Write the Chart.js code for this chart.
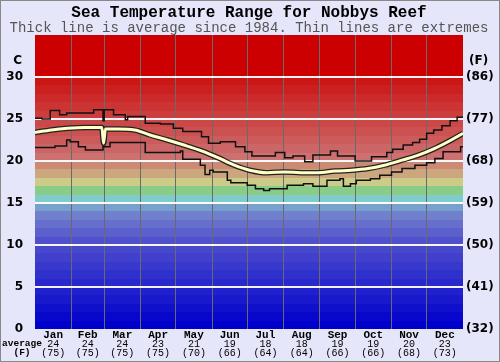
<!DOCTYPE html>
<html>
<head>
<meta charset="utf-8">
<script src="https://cdn.jsdelivr.net/npm/chart.js@4.4.1/dist/chart.umd.min.js"></script>
<style>
  html, body { margin: 0; padding: 0; background: #e6e6fa; }
  canvas { display: block; }
</style>
</head>
<body>
<canvas id="chart" width="500" height="362"></canvas>
<script>
// month labels and the day each month starts on
const months = ['Jan', 'Feb', 'Mar', 'Apr', 'May', 'Jun', 'Jul', 'Aug', 'Sep', 'Oct', 'Nov', 'Dec'];
const monthStarts = [0, 31, 59, 90, 120, 151, 181, 212, 243, 273, 304, 334, 365];
const monthAvgC = [24, 24, 24, 23, 21, 19, 18, 18, 19, 19, 20, 23];
const monthAvgF = [75, 75, 75, 75, 70, 66, 64, 64, 66, 66, 68, 73];

// axis ticks
const ticksC = [0, 5, 10, 15, 20, 25, 30];
const ticksF = [32, 41, 50, 59, 68, 77, 86];

// highest recorded (thin upper line), day of year -> deg C
const maxDays = [0, 6, 13, 21, 27, 50, 58, 59, 67, 77, 79, 94, 107, 118, 126, 142, 148, 158, 171, 179,
    185, 205, 213, 220, 230, 237, 252, 258, 273, 287, 300, 305, 314, 322, 328, 334, 340, 347, 354, 360, 365];
const maxTemps = [25.1, 25.0, 26.0, 25.5, 25.7, 26.1, 24.8, 26.1, 25.5, 24.9, 25.3, 24.5, 24.4, 23.9, 23.5, 22.9, 22.1, 22.3, 21.7, 21.1,
    20.6, 21.0, 20.4, 20.6, 19.9, 20.7, 21.2, 20.6, 20.0, 20.5, 21.0, 21.4, 21.9, 22.2, 22.6, 23.3, 23.7, 24.2, 24.8, 25.2, 25.2];

// lowest recorded (thin lower line)
const minDays = [0, 17, 27, 30, 37, 43, 58, 64, 94, 124, 126, 141, 145, 149, 152, 164, 167, 181, 188, 195,
    200, 215, 229, 237, 249, 260, 263, 269, 274, 286, 294, 304, 313, 324, 334, 341, 348, 363, 365];
const minTemps = [21.6, 21.8, 22.5, 22.3, 21.7, 21.3, 21.7, 22.2, 21.0, 21.2, 20.2, 19.5, 18.4, 18.9, 18.7, 17.7, 17.4, 17.1, 16.7, 16.5,
    16.7, 17.1, 17.3, 17.0, 17.7, 17.9, 17.0, 17.3, 17.7, 17.9, 18.3, 18.7, 19.1, 19.5, 19.8, 20.3, 21.1, 21.7, 21.7];

// average since 1984 (thick line)
const avgDays = [0, 14, 28, 42, 57, 58.5, 60, 70, 85, 98, 113, 127, 142, 156, 170, 183, 198, 213, 227, 241,
    256, 270, 284, 298, 313, 327, 341, 355, 365];
const avgTemps = [23.4, 23.7, 23.9, 24.0, 24.0, 22.1, 23.8, 23.8, 23.7, 23.1, 22.5, 21.9, 21.2, 20.4, 19.5, 18.9, 18.6, 18.7, 18.6, 18.6,
    18.8, 18.9, 19.1, 19.5, 20.1, 20.7, 21.5, 22.5, 23.3];

// one colour per degree band, 0-1 C up to 34-35 C
const bandColors = [
    '#0000cc', '#0808cc', '#1010cc', '#1818cc', '#2020cc', '#2828cc', '#3030cc', '#3838cc', '#4040cc', '#4848cc',
    '#5050cc', '#5c60cc', '#6670cc', '#7080cc', '#78a0cc', '#80cccc', '#88cc88', '#cccc88', '#cca67c', '#cc8a74',
    '#cc7070', '#cc6666', '#cc5c5c', '#cc5252', '#cc4848', '#cc3e3e', '#cc3434', '#cc2a2a', '#cc2020', '#cc1515',
    '#cc0000', '#cc0000', '#cc0000', '#cc0000', '#cc0000'
];

const toPoints = (xs, ys) => xs.map((x, i) => ({x: x, y: ys[i]}));

const backdrop = {
    id: 'backdrop',
    beforeDraw(chart) {
        const {ctx, chartArea: a, scales: {y}} = chart;
        ctx.save();
        ctx.fillStyle = '#e6e6fa';
        ctx.fillRect(0, 0, chart.width, chart.height);
        bandColors.forEach((c, n) => {
            const top = Math.round(y.getPixelForValue(n + 1));
            const bot = Math.round(y.getPixelForValue(n));
            ctx.fillStyle = c;
            ctx.fillRect(a.left, top, a.right - a.left, bot - top);
        });
        ctx.restore();
    }
};

const labels = {
    id: 'labels',
    afterDraw(chart) {
        const {ctx, chartArea: a, scales: {x, y}} = chart;
        ctx.save();
        ctx.fillStyle = '#000';
        ctx.textAlign = 'center';
        ctx.textBaseline = 'middle';
        ctx.font = 'bold 16px "Liberation Mono", monospace';
        ctx.fillText('Sea Temperature Range for Nobbys Reef', 249, 13);
        ctx.fillStyle = '#555';
        ctx.font = '14px "Liberation Mono", monospace';
        ctx.fillText('Thick line is average since 1984. Thin lines are extremes', 249, 28);

        // left / right axis labels
        ctx.fillStyle = '#000';
        ctx.font = 'bold 12px "DejaVu Sans", sans-serif';
        ctx.textAlign = 'right';
        ticksC.forEach(v => ctx.fillText(String(v), 23, y.getPixelForValue(v)));
        ctx.fillText('C', 22, 61);
        ctx.textAlign = 'left';
        ticksC.forEach((v, i) => ctx.fillText('(' + ticksF[i] + ')', 466, y.getPixelForValue(v)));
        ctx.fillText('(F)', 469, 61);

        // month names and monthly averages
        ctx.textAlign = 'center';
        months.forEach((m, i) => {
            const cx = x.getPixelForValue((monthStarts[i] + monthStarts[i + 1]) / 2);
            ctx.font = 'bold 11px "Liberation Mono", monospace';
            ctx.fillText(m, cx, a.bottom + 6);
            ctx.font = '10px "Liberation Mono", monospace';
            ctx.fillText(String(monthAvgC[i]), cx, a.bottom + 15);
            ctx.fillText('(' + monthAvgF[i] + ')', cx, a.bottom + 24);
        });
        ctx.font = 'bold 9.5px "Liberation Mono", monospace';
        ctx.fillText('average', 22, a.bottom + 15);
        ctx.fillText('(F)', 22, a.bottom + 24);

        ctx.strokeStyle = '#888';
        ctx.lineWidth = 1;
        ctx.strokeRect(0.5, 0.5, chart.width - 1, chart.height - 1);
        ctx.restore();
    }
};

new Chart(document.getElementById('chart'), {
    type: 'line',
    data: {
        datasets: [
            {
                data: toPoints(maxDays, maxTemps),
                borderColor: '#111',
                borderWidth: 1.5,
                stepped: 'before',
                pointRadius: 0
            },
            {
                data: toPoints(minDays, minTemps),
                borderColor: '#111',
                borderWidth: 1.5,
                stepped: 'before',
                pointRadius: 0
            },
            {
                data: toPoints(avgDays, avgTemps),
                borderColor: '#ffffc8',
                borderWidth: 3,
                cubicInterpolationMode: 'monotone',
                pointRadius: 0,
                order: -2
            },
            {
                data: toPoints(avgDays, avgTemps),
                borderColor: '#222',
                borderWidth: 5.5,
                cubicInterpolationMode: 'monotone',
                pointRadius: 0,
                order: -1
            }
        ]
    },
    options: {
        responsive: false,
        animation: false,
        devicePixelRatio: 1,
        layout: {padding: {left: 35, top: 35, right: 37, bottom: 33}},
        plugins: {legend: {display: false}, tooltip: {enabled: false}},
        scales: {
            x: {
                type: 'linear',
                min: 0,
                max: 365,
                afterBuildTicks: s => { s.ticks = monthStarts.slice(1, -1).map(v => ({value: v})); },
                ticks: {display: false},
                grid: {color: '#6a6a6a', lineWidth: 1, drawTicks: false},
                border: {display: false}
            },
            y: {
                min: 0,
                max: 35,
                afterBuildTicks: s => { s.ticks = ticksC.slice(1).map(v => ({value: v})); },
                ticks: {display: false},
                grid: {color: 'rgba(255,255,255,0.95)', lineWidth: 2, drawTicks: false},
                border: {display: false}
            }
        }
    },
    plugins: [backdrop, labels]
});
</script>
</body>
</html>
